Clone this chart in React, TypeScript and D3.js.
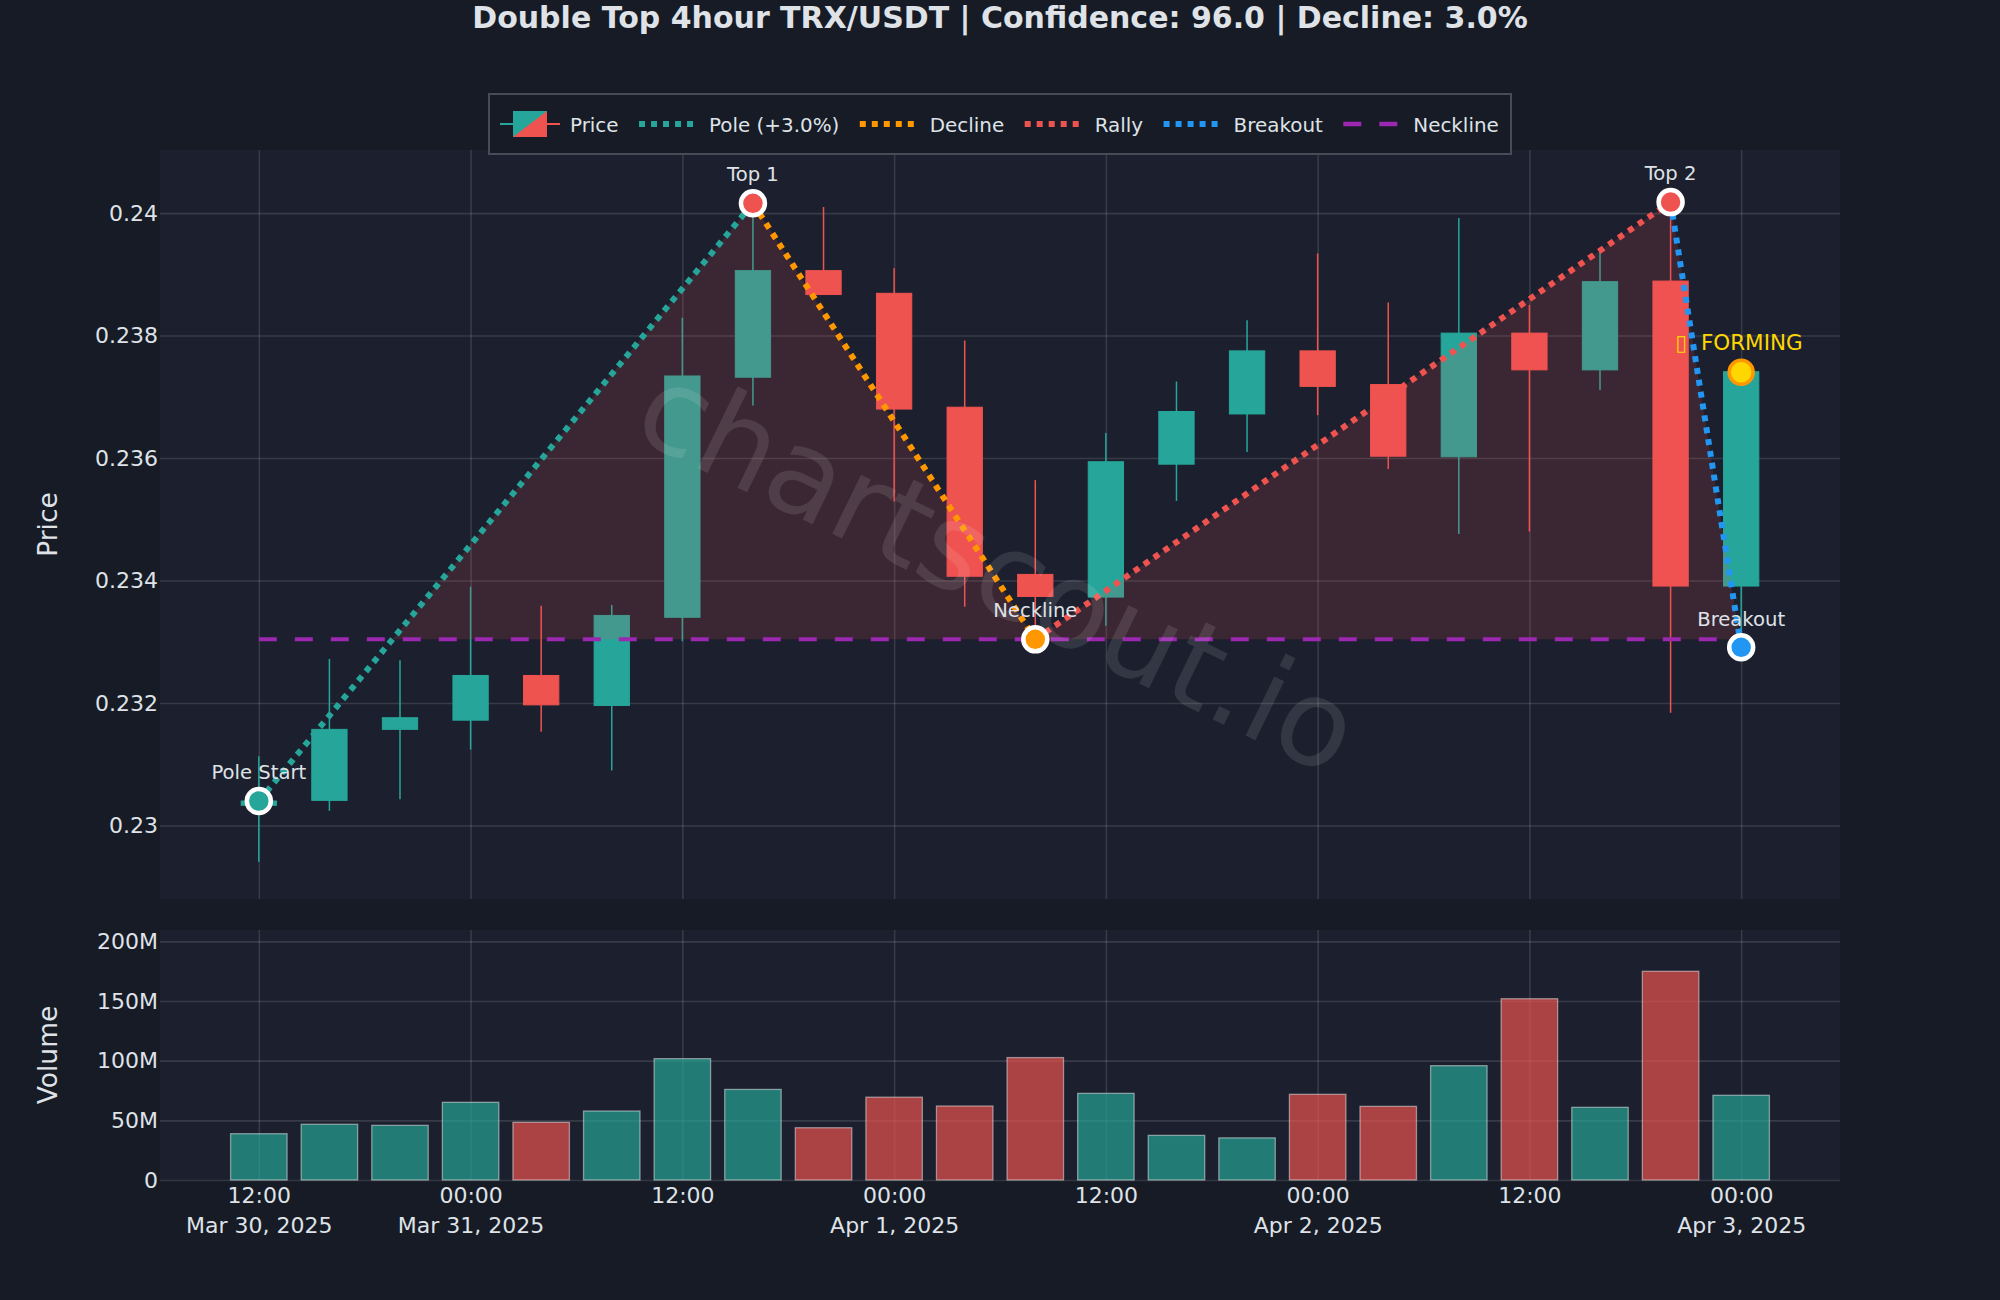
import React, { useEffect, useRef } from 'react';
import * as d3 from 'd3';

const WIDTH = 2000;
const HEIGHT = 1300;

const startTime = Date.UTC(2025, 2, 30, 12);
const FOUR_HOURS = 4 * 3600 * 1000;

const opens = [0.23033, 0.23041, 0.23157, 0.23172, 0.23245, 0.23196, 0.2334, 0.23732, 0.23906, 0.23869, 0.23683, 0.2341, 0.23373, 0.2359, 0.23672, 0.23775, 0.2372, 0.23602, 0.23804, 0.23744, 0.23889, 0.23391];
const highs = [0.23113, 0.23272, 0.2327, 0.2339, 0.23359, 0.2336, 0.23829, 0.24015, 0.2401, 0.2391, 0.23792, 0.23564, 0.23641, 0.23725, 0.23825, 0.23934, 0.23854, 0.23992, 0.2385, 0.23937, 0.24018, 0.23741];
const lows = [0.22941, 0.23024, 0.23043, 0.23124, 0.23153, 0.2309, 0.23301, 0.23686, 0.23867, 0.23529, 0.23357, 0.2331, 0.23326, 0.2353, 0.2361, 0.2367, 0.23582, 0.23476, 0.2348, 0.23711, 0.23184, 0.2329];
const closes = [0.2304, 0.23157, 0.23176, 0.23245, 0.23197, 0.23343, 0.23734, 0.23906, 0.23867, 0.2368, 0.23407, 0.23374, 0.23594, 0.23676, 0.23775, 0.23717, 0.23603, 0.23804, 0.23744, 0.23888, 0.23391, 0.23741];
const volumes = [38.8, 46.7, 45.8, 65.1, 48.3, 57.8, 101.7, 75.9, 43.8, 69.4, 62, 102.6, 72.6, 37.4, 35.3, 71.8, 61.7, 95.8, 151.9, 60.9, 174.9, 71];

const priceTicks = [0.23, 0.232, 0.234, 0.236, 0.238, 0.24];
const volumeTicks = [0, 50, 100, 150, 200];
const timeTickIndexes = [0, 3, 6, 9, 12, 15, 18, 21];
const dateLabels = ['Mar 30, 2025', 'Mar 31, 2025', '', 'Apr 1, 2025', '', 'Apr 2, 2025', '', 'Apr 3, 2025'];

const poleStart = { i: 0, price: 0.2304 };
const top1 = { i: 7, price: 0.24016 };
const neck = { i: 11, price: 0.23304 };
const top2 = { i: 20, price: 0.24018 };
const breakout = { i: 21, price: 0.23291 };
const forming = { i: 21, price: 0.2374 };

const UP = '#26a69a';
const DOWN = '#ef5350';
const ORANGE = '#ff9800';
const BLUE = '#2196f3';
const PURPLE = '#9c27b0';
const GOLD = '#ffd700';
const TEXT = '#dfe2e7';
const FONT = '"DejaVu Sans", sans-serif';

const timeOf = (i: number) => new Date(startTime + i * FOUR_HOURS);

export default function App() {
  const svgRef = useRef<SVGSVGElement>(null);

  useEffect(() => {
    if (!svgRef.current) return;
    const svg = d3.select(svgRef.current);
    svg.selectAll('*').remove();

    svg.append('rect').attr('width', WIDTH).attr('height', HEIGHT).attr('fill', '#161b26');

    const plot = { left: 160, right: 1840, top: 150, bottom: 899, volTop: 930, volBottom: 1180 };
    const plotWidth = plot.right - plot.left;

    // half a step-ish of padding on both sides, same as the source range
    const x = d3.scaleUtc()
      .domain([new Date(startTime - 5.6 * 3600 * 1000), new Date(startTime + 21 * FOUR_HOURS + 5.6 * 3600 * 1000)])
      .range([plot.left, plot.right]);
    const y = d3.scaleLinear().domain([0.2288, 0.24103]).range([plot.bottom, plot.top]);
    const yVol = d3.scaleLinear().domain([0, 209.5]).range([plot.volBottom, plot.volTop]);

    const step = x(timeOf(1)) - x(timeOf(0));
    const candleWidth = step * 0.5;
    const barWidth = step * 0.8;

    svg.append('rect').attr('x', plot.left).attr('y', plot.top).attr('width', plotWidth)
      .attr('height', plot.bottom - plot.top).attr('fill', '#1c202e');
    svg.append('rect').attr('x', plot.left).attr('y', plot.volTop).attr('width', plotWidth)
      .attr('height', plot.volBottom - plot.volTop).attr('fill', '#1c202e');

    const styleAxis = (g: d3.Selection<SVGGElement, unknown, null, undefined>) => {
      g.select('.domain').remove();
      g.selectAll('line').attr('stroke', '#ffffff').attr('stroke-opacity', 0.12).attr('stroke-width', 1.6);
      g.selectAll('text').attr('fill', TEXT).attr('font-family', FONT).attr('font-size', 22);
    };

    const tickTimes = timeTickIndexes.map(timeOf);

    // Price axis + grids
    svg.append('g').attr('transform', `translate(${plot.left},0)`)
      .call(d3.axisLeft(y).tickValues(priceTicks).tickSizeInner(-plotWidth).tickSizeOuter(0).tickPadding(2)
        .tickFormat(d => d3.format('.3~f')(d as number)))
      .call(styleAxis);
    svg.append('g').attr('transform', `translate(0,${plot.bottom})`)
      .call(d3.axisBottom(x).tickValues(tickTimes).tickSizeInner(-(plot.bottom - plot.top)).tickSizeOuter(0)
        .tickFormat(() => ''))
      .call(styleAxis);

    // Volume axis + grids
    svg.append('g').attr('transform', `translate(${plot.left},0)`)
      .call(d3.axisLeft(yVol).tickValues(volumeTicks).tickSizeInner(-plotWidth).tickSizeOuter(0).tickPadding(2)
        .tickFormat(d => (d === 0 ? '0' : `${d}M`)))
      .call(styleAxis);
    const timeAxis = svg.append('g').attr('transform', `translate(0,${plot.volBottom})`)
      .call(d3.axisBottom(x).tickValues(tickTimes).tickSizeInner(-(plot.volBottom - plot.volTop)).tickSizeOuter(0)
        .tickPadding(7).tickFormat(d => d3.utcFormat('%H:%M')(d as Date)))
      .call(styleAxis);
    timeAxis.selectAll<SVGTextElement, Date>('text').each(function (_d, i) {
      d3.select(this.parentNode as SVGGElement).append('text')
        .attr('y', 37).attr('dy', '0.71em').attr('text-anchor', 'middle')
        .attr('fill', TEXT).attr('font-family', FONT).attr('font-size', 22)
        .text(dateLabels[i]);
    });

    // Axis titles
    [['Price', (plot.top + plot.bottom) / 2], ['Volume', (plot.volTop + plot.volBottom) / 2]].forEach(([label, cy]) => {
      svg.append('text').attr('transform', `translate(47,${cy}) rotate(-90)`)
        .attr('text-anchor', 'middle').attr('dy', '0.36em')
        .attr('fill', TEXT).attr('font-family', FONT).attr('font-size', 26.5)
        .text(label as string);
    });

    // Candles
    const candles = svg.append('g').selectAll('g').data(opens).enter().append('g');
    candles.append('line')
      .attr('x1', (_d, i) => x(timeOf(i))).attr('x2', (_d, i) => x(timeOf(i)))
      .attr('y1', (_d, i) => y(highs[i])).attr('y2', (_d, i) => y(lows[i]))
      .attr('stroke', (_d, i) => (closes[i] >= opens[i] ? UP : DOWN))
      .attr('stroke-width', 1.5);
    candles.append('rect')
      .attr('x', (_d, i) => x(timeOf(i)) - candleWidth / 2)
      .attr('y', (_d, i) => y(Math.max(opens[i], closes[i])))
      .attr('width', candleWidth)
      .attr('height', (_d, i) => Math.abs(y(opens[i]) - y(closes[i])))
      .attr('fill', (_d, i) => (closes[i] >= opens[i] ? UP : DOWN))
      .attr('stroke', (_d, i) => (closes[i] >= opens[i] ? UP : DOWN))
      .attr('stroke-width', 1);

    // Volume bars
    svg.append('g').selectAll('rect').data(volumes).enter().append('rect')
      .attr('x', (_d, i) => x(timeOf(i)) - barWidth / 2)
      .attr('y', d => yVol(d))
      .attr('width', barWidth)
      .attr('height', d => yVol(0) - yVol(d))
      .attr('fill', (_d, i) => (closes[i] >= opens[i] ? UP : DOWN))
      .attr('fill-opacity', 0.68)
      .attr('stroke', '#ffffff')
      .attr('stroke-opacity', 0.45)
      .attr('stroke-width', 1.3);

    // Pattern fill, cut off at the neckline
    const px = (p: { i: number }) => x(timeOf(p.i));
    const py = (p: { price: number }) => y(p.price);
    const crossing = (a: { i: number; price: number }, b: { i: number; price: number }) => {
      const t = (neck.price - a.price) / (b.price - a.price);
      return [d3.interpolateNumber(px(a), px(b))(t), py(neck)] as [number, number];
    };
    const polygon: [number, number][] = [
      crossing(poleStart, top1),
      [px(top1), py(top1)],
      [px(neck), py(neck)],
      [px(top2), py(top2)],
      crossing(top2, breakout),
    ];
    svg.append('path').attr('d', d3.line()(polygon) + 'Z').attr('fill', DOWN).attr('fill-opacity', 0.15);

    // Pattern lines
    const legs: [typeof top1, typeof top1, string][] = [
      [poleStart, top1, UP],
      [top1, neck, ORANGE],
      [neck, top2, DOWN],
      [top2, breakout, BLUE],
    ];
    legs.forEach(([a, b, color]) => {
      svg.append('line').attr('x1', px(a)).attr('y1', py(a)).attr('x2', px(b)).attr('y2', py(b))
        .attr('stroke', color).attr('stroke-width', 6).attr('stroke-dasharray', '6,6');
    });
    svg.append('line').attr('x1', px(poleStart)).attr('x2', px(breakout)).attr('y1', py(neck)).attr('y2', py(neck))
      .attr('stroke', PURPLE).attr('stroke-width', 4).attr('stroke-dasharray', '18,18');

    // Markers
    const markers: [typeof top1, string, string, number][] = [
      [poleStart, UP, '#ffffff', 4.5],
      [top1, DOWN, '#ffffff', 4.5],
      [neck, ORANGE, '#ffffff', 4.5],
      [top2, DOWN, '#ffffff', 4.5],
      [breakout, BLUE, '#ffffff', 4.5],
      [forming, GOLD, ORANGE, 3.5],
    ];
    markers.forEach(([p, fill, stroke, sw]) => {
      svg.append('circle').attr('cx', px(p)).attr('cy', py(p)).attr('r', 12)
        .attr('fill', fill).attr('stroke', stroke).attr('stroke-width', sw);
    });

    // Watermark
    svg.append('text')
      .attr('transform', 'translate(999,567) rotate(26)')
      .attr('text-anchor', 'middle').attr('dy', '0.36em')
      .attr('fill', '#ffffff').attr('fill-opacity', 0.1)
      .attr('font-family', FONT).attr('font-size', 120)
      .text('chartscout.io');

    // Marker labels
    const labels: [string, typeof top1, number][] = [
      ['Pole Start', poleStart, -29],
      ['Top 1', top1, -29],
      ['Neckline', neck, -29],
      ['Top 2', top2, -29],
      ['Breakout', breakout, -28],
    ];
    labels.forEach(([text, p, dy]) => {
      svg.append('text').attr('x', px(p)).attr('y', py(p) + dy)
        .attr('text-anchor', 'middle').attr('dy', '0.36em')
        .attr('fill', TEXT).attr('font-family', FONT).attr('font-size', 19.6)
        .text(text);
    });
    // the source label starts with a glyph its font lacks, shown as an empty box
    const formingLabel = svg.append('text').attr('y', py(forming) - 30).attr('dy', '0.36em')
      .attr('fill', GOLD).attr('font-family', FONT).attr('font-size', 21.5);
    formingLabel.append('tspan').attr('x', px(forming) - 66).text('\u25AF');
    formingLabel.append('tspan').attr('x', px(forming) - 40.3).text('FORMING');

    // Title
    svg.append('text').attr('x', 1000).attr('y', 27.5).attr('text-anchor', 'middle')
      .attr('fill', TEXT).attr('font-family', FONT).attr('font-weight', 'bold').attr('font-size', 30)
      .text('Double Top 4hour TRX/USDT | Confidence: 96.0 | Decline: 3.0%');

    // Legend
    const legend = svg.append('g');
    legend.append('rect').attr('x', 489).attr('y', 94).attr('width', 1022).attr('height', 60)
      .attr('fill', '#161b26').attr('stroke', '#464b57').attr('stroke-width', 2);
    const legendY = 124;
    const legendItems: [string, string, string][] = [
      ['Price', '', ''],
      ['Pole (+3.0%)', UP, '6,6'],
      ['Decline', ORANGE, '6,6'],
      ['Rally', DOWN, '6,6'],
      ['Breakout', BLUE, '6,6'],
      ['Neckline', PURPLE, '18,18'],
    ];
    let cursor = 500;
    legendItems.forEach(([label, color, dash]) => {
      if (label === 'Price') {
        legend.append('line').attr('x1', cursor).attr('x2', cursor + 30).attr('y1', legendY).attr('y2', legendY)
          .attr('stroke', UP).attr('stroke-width', 2);
        legend.append('line').attr('x1', cursor + 30).attr('x2', cursor + 60).attr('y1', legendY).attr('y2', legendY)
          .attr('stroke', DOWN).attr('stroke-width', 2);
        legend.append('rect').attr('x', cursor + 13).attr('y', legendY - 13).attr('width', 34).attr('height', 26).attr('fill', UP);
        legend.append('path')
          .attr('d', d3.line()([[cursor + 47, legendY - 13], [cursor + 47, legendY + 13], [cursor + 13, legendY + 13]]) + 'Z')
          .attr('fill', DOWN);
      } else {
        legend.append('line').attr('x1', cursor).attr('x2', cursor + 56).attr('y1', legendY).attr('y2', legendY)
          .attr('stroke', color).attr('stroke-width', dash === '6,6' ? 6 : 4.5).attr('stroke-dasharray', dash);
      }
      const text = legend.append('text').attr('x', cursor + 70).attr('y', legendY + 1).attr('dy', '0.36em')
        .attr('fill', TEXT).attr('font-family', FONT).attr('font-size', 19.9)
        .text(label);
      cursor += 70 + (text.node() as SVGTextElement).getComputedTextLength() + 20.5;
    });
  }, []);

  return (
    <svg
      ref={svgRef}
      width={WIDTH}
      height={HEIGHT}
      style={{ position: 'absolute', top: 0, left: 0, display: 'block' }}
    />
  );
}
